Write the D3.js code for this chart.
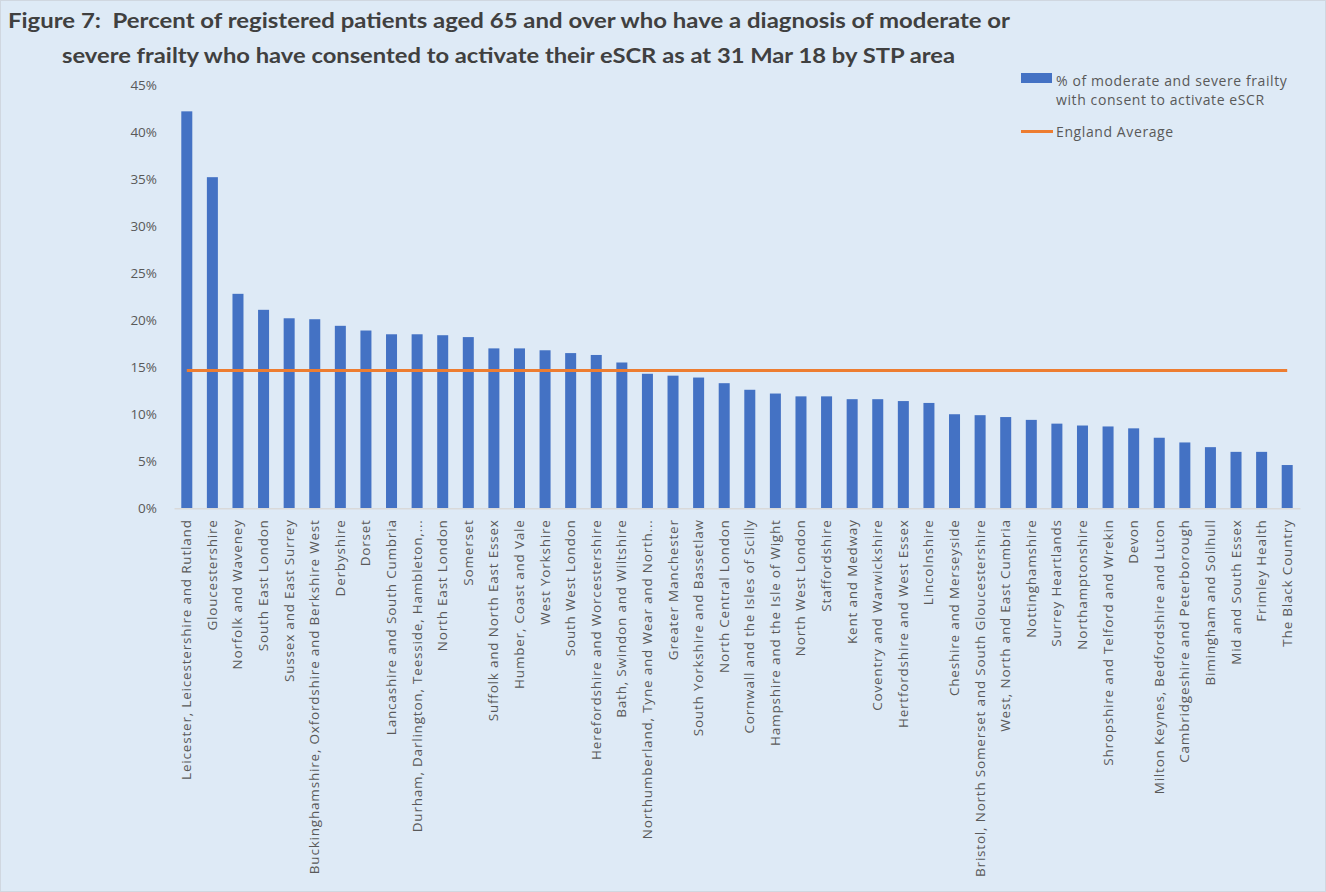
<!DOCTYPE html>
<html>
<head>
<meta charset="utf-8">
<script src="https://cdn.jsdelivr.net/npm/d3@7"></script>
<style>
  html, body { margin: 0; padding: 0; background: #DEEAF6; }
  svg { display: block; }
</style>
</head>
<body>
<svg id="chart" width="1326" height="892"></svg>
<script>
// STP areas, ordered by share of frail patients consenting to eSCR
const categories = [
  "Leicester, Leicestershire and Rutland",
  "Gloucestershire",
  "Norfolk and Waveney",
  "South East London",
  "Sussex and East Surrey",
  "Buckinghamshire, Oxfordshire and Berkshire West",
  "Derbyshire",
  "Dorset",
  "Lancashire and South Cumbria",
  "Durham, Darlington, Teesside, Hambleton,...",
  "North East London",
  "Somerset",
  "Suffolk and North East Essex",
  "Humber, Coast and Vale",
  "West Yorkshire",
  "South West London",
  "Herefordshire and Worcestershire",
  "Bath, Swindon and Wiltshire",
  "Northumberland, Tyne and Wear and North...",
  "Greater Manchester",
  "South Yorkshire and Bassetlaw",
  "North Central London",
  "Cornwall and the Isles of Scilly",
  "Hampshire and the Isle of Wight",
  "North West London",
  "Staffordshire",
  "Kent and Medway",
  "Coventry and Warwickshire",
  "Hertfordshire and West Essex",
  "Lincolnshire",
  "Cheshire and Merseyside",
  "Bristol, North Somerset and South Gloucestershire",
  "West, North and East Cumbria",
  "Nottinghamshire",
  "Surrey Heartlands",
  "Northamptonshire",
  "Shropshire and Telford and Wrekin",
  "Devon",
  "Milton Keynes, Bedfordshire and Luton",
  "Cambridgeshire and Peterborough",
  "Bimingham and Solihull",
  "Mid and South Essex",
  "Frimley Health",
  "The Black Country"
];

// % of moderate and severe frailty with consent to activate eSCR
const consentPct = [
  42.2, 35.2, 22.8, 21.1, 20.2, 20.1, 19.4, 18.9, 18.5, 18.5,
  18.4, 18.2, 17.0, 17.0, 16.8, 16.5, 16.3, 15.5, 14.3, 14.1,
  13.9, 13.3, 12.6, 12.2, 11.9, 11.9, 11.6, 11.6, 11.4, 11.2,
  10.0, 9.9, 9.7, 9.4, 9.0, 8.8, 8.7, 8.5, 7.5, 7.0,
  6.5, 6.0, 6.0, 4.6
];

// England average
const englandAverage = 14.65;

const yTicks = [0, 5, 10, 15, 20, 25, 30, 35, 40, 45];

const titleLines = [
  "Figure 7:  Percent of registered patients aged 65 and over who have a diagnosis of moderate or",
  "severe frailty who have consented to activate their eSCR as at 31 Mar 18 by STP area"
];

const legendBarLines = ["% of moderate and severe frailty", "with consent to activate eSCR"];
const legendLineLabel = "England Average";

const svg = d3.select("#chart");
const W = 1326, H = 892;
const titleFont = "Lato, 'Open Sans', sans-serif";
const font = "'Open Sans', Lato, sans-serif";
const textGrey = "#595959";

svg.append("rect").attr("x", 0.5).attr("y", 0.5).attr("width", W - 1).attr("height", H - 1)
  .attr("fill", "#DEEAF6").attr("stroke", "#D0D7E0");

const plot = { left: 174, right: 1300, top: 85, bottom: 508.3 };

const x = d3.scaleBand().domain(categories).range([plot.left, plot.right]).paddingInner(0.57).paddingOuter(0.285);
const y = d3.scaleLinear().domain([0, 45]).range([plot.bottom, plot.top]);

// title
const titleSpecs = [
  { x1: 8, x2: 1010, baseline: 28 },
  { x1: 62, x2: 955, baseline: 63 }
];
svg.append("g").selectAll("text").data(titleLines).join("text")
  .attr("x", (d, i) => titleSpecs[i].x1)
  .attr("y", (d, i) => titleSpecs[i].baseline)
  .attr("textLength", (d, i) => titleSpecs[i].x2 - titleSpecs[i].x1)
  .attr("lengthAdjust", "spacingAndGlyphs")
  .style("white-space", "pre")
  .attr("font-family", titleFont).attr("font-weight", "bold").attr("font-size", 21)
  .attr("fill", "#404040")
  .text(d => d);

// y axis labels
const yAxis = d3.axisLeft(y).tickValues(yTicks).tickFormat(d => d + "%").tickSize(0).tickPadding(17);
const yg = svg.append("g").attr("transform", `translate(${plot.left},0)`).call(yAxis);
yg.select(".domain").remove();
yg.selectAll("text").attr("font-family", font).attr("font-size", 13.5).attr("fill", textGrey);

// bars
svg.append("g").selectAll("rect").data(categories).join("rect")
  .attr("x", d => x(d))
  .attr("width", x.bandwidth())
  .attr("y", (d, i) => y(consentPct[i]))
  .attr("height", (d, i) => y(0) - y(consentPct[i]))
  .attr("fill", "#4472C4");

// category axis
const xAxis = d3.axisBottom(x).tickSize(0).tickPadding(0);
const xg = svg.append("g").attr("transform", `translate(0,${plot.bottom})`).call(xAxis);
xg.select(".domain").attr("stroke", "#D9D9D9").attr("stroke-width", 1.5);
xg.selectAll("text")
  .attr("font-family", font).attr("font-size", 13.5).attr("fill", textGrey)
  .attr("letter-spacing", 0.8)
  .attr("text-anchor", "end")
  .attr("dy", null)
  .attr("transform", "translate(4.5,11) rotate(-90)")
  .attr("x", 0).attr("y", 0);

// England average line
const first = categories[0], last = categories[categories.length - 1];
svg.append("line")
  .attr("x1", x(first) + x.bandwidth() / 2)
  .attr("x2", x(last) + x.bandwidth() / 2)
  .attr("y1", y(englandAverage)).attr("y2", y(englandAverage))
  .attr("stroke", "#ED7D31").attr("stroke-width", 3);

// legend
const lg = svg.append("g");
lg.append("rect").attr("x", 1021).attr("y", 73).attr("width", 31).attr("height", 10).attr("fill", "#4472C4");
lg.selectAll("text.bar").data(legendBarLines).join("text").attr("class", "bar")
  .attr("x", 1056).attr("y", (d, i) => 86 + i * 18.5)
  .attr("font-family", font).attr("font-size", 14).attr("letter-spacing", 0.6).attr("fill", textGrey)
  .text(d => d);
lg.append("line").attr("x1", 1021).attr("x2", 1053).attr("y1", 131.5).attr("y2", 131.5)
  .attr("stroke", "#ED7D31").attr("stroke-width", 3);
lg.append("text").attr("x", 1056).attr("y", 137)
  .attr("font-family", font).attr("font-size", 14).attr("letter-spacing", 0.6).attr("fill", textGrey)
  .text(legendLineLabel);
</script>
</body>
</html>
